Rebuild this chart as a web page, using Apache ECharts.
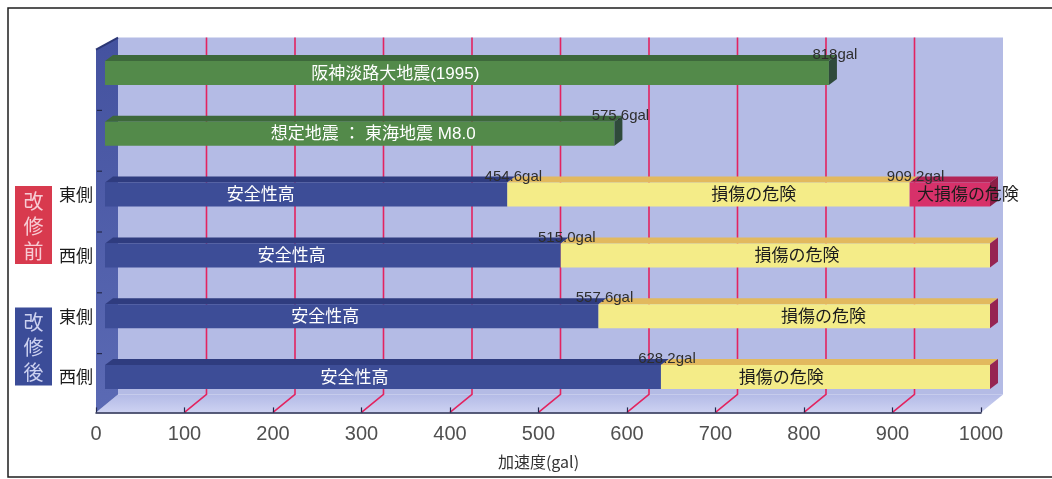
<!DOCTYPE html>
<html>
<head>
<meta charset="utf-8">
<script src="https://cdn.jsdelivr.net/npm/echarts@6/dist/echarts.min.js"></script>
<style>
  html, body { margin: 0; padding: 0; background: #ffffff; }
  #chart { width: 1052px; height: 479px; }
</style>
</head>
<body>
<div id="chart"></div>
<script>
// ---- data ----------------------------------------------------------------
// rows from top to bottom
const rowNames = ['阪神淡路大地震(1995)', '想定地震 ： 東海地震 M8.0', '改修前 東側', '改修前 西側', '改修後 東側', '改修後 西側'];
const sideLabels = ['', '', '東側', '西側', '東側', '西側'];
const groupNames = ['改修前', '改修後'];
const groupRows = [[2, 3], [4, 5]];

// ground acceleration of each earthquake (gal)
const quakeNames = ['阪神淡路大地震(1995)', '想定地震 ： 東海地震 M8.0'];
const quakeRows = [0, 1];
const quakeValues = [818, 575.6];

// building rows: upper limit of 安全性高 and of 損傷の危険 (gal); null = beyond the axis
const buildingRows = [2, 3, 4, 5];
const safeLimit = [454.6, 515.0, 557.6, 628.2];
const damageLimit = [909.2, null, null, null];
const zoneNames = ['安全性高', '損傷の危険', '大損傷の危険'];

// axis
const axisMin = 0;
const axisMax = 1000;
const axisStep = 100;
const axisTitle = '加速度(gal)';

// ---- layout & style ------------------------------------------------------
const GRID = { left: 105, right: 62, top: 42.6, bottom: 71.6 };
const FRONT = [-9, 7];          // front edge of the box relative to the bar plane
const DEPTH = [22, -18];        // box depth, front edge -> back wall
const BAR_DEPTH = [8, -6];      // thickness of each bar
const BAR_FACE = 24;            // height of a bar's front face
const FLOOR_LIFT = 2;

// where each caption sits along the axis (gal units)
const captionAt = {
  quake: [328, 303],
  safe: [176, 211, 249, 282],
  damage: [733, 782, 812, 764],
  severe: [975, null, null, null]
};

const palette = {
  quake:  { front: '#538a4a', top: '#3d683b', end: '#2f4a3b', text: '#ffffff' },
  safe:   { front: '#3d4d97', top: '#2f3c7f', end: '#2f3c7f', text: '#ffffff' },
  damage: { front: '#f4ec88', top: '#e2b95e', end: '#962452', text: '#1c1c1c' },
  severe: { front: '#d7316a', top: '#b32457', end: '#8d1e48', text: '#1c1c1c' }
};
const WALL = { back: '#b4bbe5', leftEdge: '#2c3775', grid: '#e3235f', edge: '#23284d' };

const LATIN = "'Liberation Sans', 'Noto Sans CJK JP', sans-serif";
const CJK = "'Noto Sans CJK JP', sans-serif";

// ---- build bar segments --------------------------------------------------
const segments = [];
quakeValues.forEach((v, i) => {
  segments.push({ row: quakeRows[i], start: axisMin, end: v, kind: 'quake', last: true,
    caption: quakeNames[i], captionAt: captionAt.quake[i], value: String(v) + 'gal' });
});
buildingRows.forEach((row, i) => {
  const safe = safeLimit[i];
  const damage = damageLimit[i];
  segments.push({ row, start: axisMin, end: safe, kind: 'safe', last: false,
    caption: zoneNames[0], captionAt: captionAt.safe[i], value: safe.toFixed(1) + 'gal' });
  segments.push({ row, start: safe, end: damage === null ? axisMax : damage, kind: 'damage', last: damage === null,
    caption: zoneNames[1], captionAt: captionAt.damage[i], value: damage === null ? null : damage.toFixed(1) + 'gal' });
  if (damage !== null) {
    segments.push({ row, start: damage, end: axisMax, kind: 'severe', last: true,
      caption: zoneNames[2], captionAt: captionAt.severe[i], value: null });
  }
});

// ---- renderers -----------------------------------------------------------
function renderBox(params, api) {
  const cs = params.coordSys;
  const x0 = api.coord([axisMin, 0])[0];
  const x1 = api.coord([axisMax, 0])[0];
  const floorY = cs.y + cs.height - FLOOR_LIFT;
  const frontY = floorY + FRONT[1];
  const backY = floorY + FRONT[1] + DEPTH[1];
  const topY = cs.y - 5;
  const fx = (x) => x + FRONT[0];
  const bx = (x) => x + FRONT[0] + DEPTH[0];
  const children = [];

  children.push({ type: 'rect', shape: { x: bx(x0), y: topY, width: bx(x1) - bx(x0), height: backY - topY },
    style: { fill: WALL.back } });
  children.push({ type: 'polygon', shape: { points: [[fx(x0), frontY], [fx(x1), frontY], [bx(x1), backY], [bx(x0), backY]] },
    style: { fill: new echarts.graphic.LinearGradient(0, 0, 0, 1, [
      { offset: 0, color: '#b3bae6' }, { offset: 1, color: '#cdd2f2' }]) } });
  children.push({ type: 'polygon', shape: { points: [[fx(x0), topY + 12], [bx(x0), topY], [bx(x0), backY], [fx(x0), frontY]] },
    style: { fill: new echarts.graphic.LinearGradient(0, 0, 0, 1, [
      { offset: 0, color: '#44529f' }, { offset: 1, color: '#5b6ab4' }]) } });
  children.push({ type: 'polyline', shape: { points: [[fx(x0), topY + 12], [bx(x0), topY]] },
    style: { stroke: WALL.leftEdge, lineWidth: 2, fill: null } });

  for (let v = axisMin + axisStep; v < axisMax; v += axisStep) {
    const x = api.coord([v, 0])[0];
    children.push({ type: 'polyline', shape: { points: [[fx(x), frontY], [bx(x), backY], [bx(x), topY]] },
      style: { stroke: WALL.grid, lineWidth: 1.6, fill: null } });
  }

  // small marks between rows on the front edge of the side wall
  for (let r = 1; r < rowNames.length; r++) {
    const y = (api.coord([0, r - 1])[1] + api.coord([0, r])[1]) / 2 + FRONT[1];
    children.push({ type: 'line', shape: { x1: fx(x0) + 1, y1: y, x2: fx(x0) + 6, y2: y },
      style: { stroke: WALL.edge, lineWidth: 1.2 } });
  }
  return { type: 'group', children };
}

function renderBar(params, api) {
  const s = segments[params.dataIndex];
  const c = palette[s.kind];
  const p0 = api.coord([api.value(0), api.value(2)]);
  const p1 = api.coord([api.value(1), api.value(2)]);
  const yc = p0[1];
  const yTop = yc - BAR_FACE / 2;
  const yBot = yc + BAR_FACE / 2;
  const [dx, dy] = BAR_DEPTH;
  const children = [];

  children.push({ type: 'polygon', shape: { points: [[p0[0], yTop], [p1[0], yTop], [p1[0] + dx, yTop + dy], [p0[0] + dx, yTop + dy]] },
    style: { fill: c.top } });
  children.push({ type: 'rect', shape: { x: p0[0], y: yTop, width: p1[0] - p0[0], height: BAR_FACE },
    style: { fill: c.front } });
  if (s.last) {
    children.push({ type: 'polygon', shape: { points: [[p1[0], yTop], [p1[0] + dx, yTop + dy], [p1[0] + dx, yBot + dy], [p1[0], yBot]] },
      style: { fill: c.end } });
  }
  if (s.caption && s.captionAt !== null) {
    const tx = api.coord([s.captionAt, api.value(2)])[0];
    children.push({ type: 'text', z2: 10, style: { text: s.caption, x: tx, y: yc + 1, fill: c.text,
      font: '17px ' + LATIN, align: 'center', verticalAlign: 'middle' } });
  }
  if (s.value) {
    children.push({ type: 'text', z2: 10, style: { text: s.value, x: p1[0] + 6, y: yTop - 6, fill: '#2e2e2e',
      font: '15px ' + LATIN, align: 'center', verticalAlign: 'middle' } });
  }
  return { type: 'group', children };
}

function renderGroup(params, api) {
  const i = params.dataIndex;
  const yA = api.coord([0, api.value(1)])[1];
  const yB = api.coord([0, api.value(2)])[1];
  const mid = (yA + yB) / 2;
  const colors = [{ box: '#d83a4e', text: '#f7ccd4' }, { box: '#3b4c98', text: '#cdd1f0' }][i];
  return { type: 'group', children: [
    { type: 'rect', shape: { x: 15, y: mid - 39, width: 37, height: 78 }, style: { fill: colors.box } },
    { type: 'text', style: { text: groupNames[i].split('').join('\n'), x: 33.5, y: mid + 1, fill: colors.text,
      font: '20px ' + CJK, lineHeight: 25, align: 'center', verticalAlign: 'middle' } }
  ] };
}

// ---- chart ---------------------------------------------------------------
const chart = echarts.init(document.getElementById('chart'), null, { renderer: 'canvas' });
chart.setOption({
  backgroundColor: '#ffffff',
  animation: false,
  graphic: [{ type: 'rect', shape: { x: 8, y: 8, width: 1100, height: 469 },
    style: { fill: null, stroke: '#1e1e1e', lineWidth: 1.5 }, z: 100 }],
  grid: [
    { left: GRID.left, right: GRID.right, top: GRID.top, bottom: GRID.bottom },
    { left: GRID.left + FRONT[0], right: GRID.right - FRONT[0], top: GRID.top,
      bottom: GRID.bottom + FLOOR_LIFT - FRONT[1] }
  ],
  xAxis: [
    { gridIndex: 0, type: 'value', min: axisMin, max: axisMax, interval: axisStep, show: false },
    { gridIndex: 1, type: 'value', min: axisMin, max: axisMax, interval: axisStep, z: 10,
      name: axisTitle, nameLocation: 'middle', nameGap: 42,
      nameTextStyle: { fontFamily: CJK, fontSize: 16, color: '#333333' },
      axisLine: { show: true, lineStyle: { color: WALL.edge, width: 1.5 } },
      axisTick: { show: true, inside: true, length: 5, lineStyle: { color: WALL.edge, width: 1.2 } },
      axisLabel: { margin: 12, fontSize: 20, color: '#505050', fontFamily: LATIN,
        formatter: (v) => String(v) },
      splitLine: { show: false } }
  ],
  yAxis: [
    { gridIndex: 0, type: 'category', inverse: true, data: rowNames,
      axisLine: { show: false }, axisTick: { show: false }, splitLine: { show: false },
      axisLabel: { margin: 12, fontSize: 17, color: '#1a1a1a', fontFamily: CJK,
        formatter: (val, idx) => sideLabels[idx] } },
    { gridIndex: 1, type: 'category', inverse: true, data: rowNames, show: false }
  ],
  series: [
    { type: 'custom', name: 'box', xAxisIndex: 0, yAxisIndex: 0, z: 1, silent: true, clip: false,
      data: [[axisMin, 0]], renderItem: renderBox },
    { type: 'custom', name: 'bars', xAxisIndex: 0, yAxisIndex: 0, z: 3, silent: true, clip: false,
      encode: { x: [0, 1], y: 2 },
      data: segments.map(s => [s.start, s.end, s.row]), renderItem: renderBar },
    { type: 'custom', name: 'groups', xAxisIndex: 0, yAxisIndex: 0, z: 4, silent: true, clip: false,
      encode: { x: 0, y: [1, 2] },
      data: groupRows.map(g => [axisMin, g[0], g[1]]), renderItem: renderGroup }
  ]
});
</script>
</body>
</html>
